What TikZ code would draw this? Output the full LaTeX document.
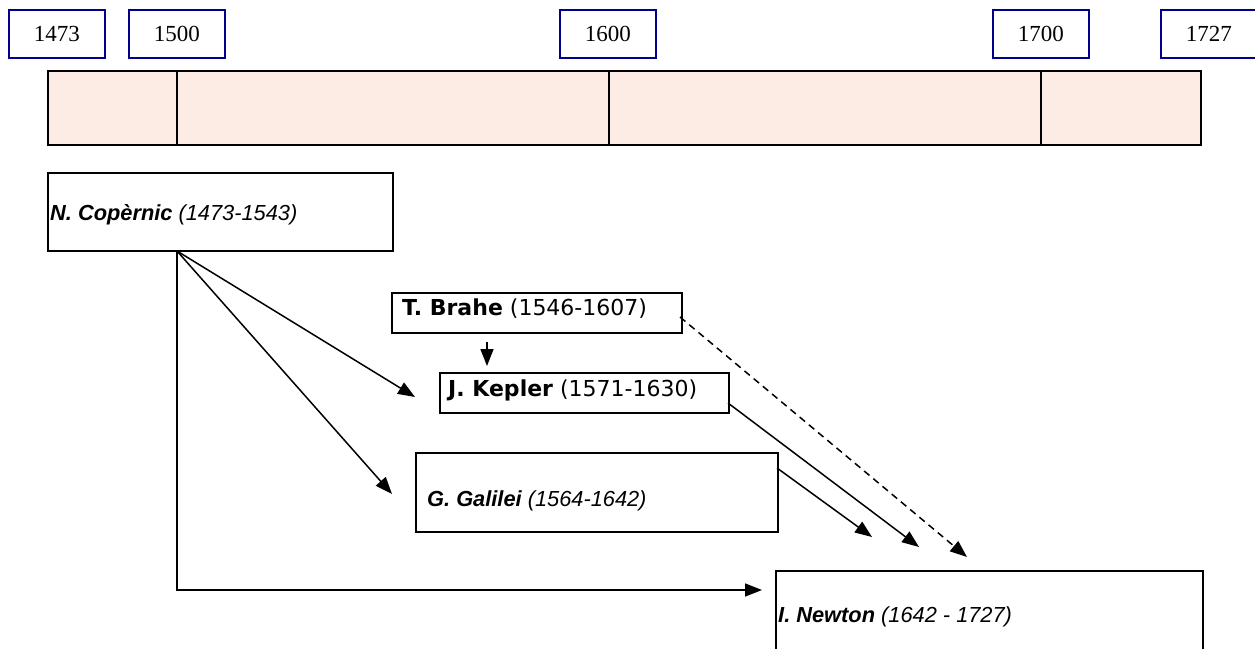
\documentclass[tikz,border=0pt]{standalone}
\usepackage{fontspec}
\setmainfont{Liberation Serif}
\newfontfamily\arialf{Liberation Sans}
\newfontfamily\verdf{DejaVu Sans}
\usetikzlibrary{arrows.meta}
\definecolor{peach}{RGB}{252,236,228}
\definecolor{navyb}{RGB}{0,0,139}
\begin{document}
\begin{tikzpicture}[x=1pt,y=-1pt,
  yearbox/.style={draw=navyb, line width=1.6pt, minimum width=96pt, minimum height=48pt,
    inner sep=0pt, anchor=north west, font=\fontsize{23}{26}\selectfont},
  cell/.style={draw=black, line width=2.2pt, fill=peach, minimum height=74pt,
    inner sep=0pt, anchor=north west},
  pbox/.style={draw=black, line width=2pt, inner sep=0pt, anchor=north west},
  atext/.style={anchor=west, inner sep=0pt, font=\arialf\itshape\fontsize{21.8}{24}\selectfont},
  vtext/.style={anchor=west, inner sep=0pt, font=\verdf\fontsize{22}{26}\selectfont},
  conn/.style={line width=1.5pt, -{Triangle[length=17pt,width=13pt]}},
]
\useasboundingbox (0,0) rectangle (1255,648);
\clip (0,0) rectangle (1255,648);

% year labels
\node[yearbox] (y1473) at (8,9) {1473};
\node[yearbox] (y1500) at (128,9) {1500};
\node[yearbox] (y1600) at (559,9) {1600};
\node[yearbox] (y1700) at (992,9) {1700};
\node[yearbox] (y1727) at (1160,9) {1727};

% timeline bar
\node[cell, minimum width=129pt] (c1) at (47,70) {};
\node[cell, minimum width=432pt] (c2) at (176,70) {};
\node[cell, minimum width=432pt] (c3) at (608,70) {};
\node[cell, minimum width=160pt] (c4) at (1040,70) {};

% person boxes
\node[pbox, minimum width=345pt, minimum height=78pt] (cop) at (47,172) {};
\node[atext] (copt) at (50,215) {\textbf{N. Copèrnic} (1473-1543)};

\node[pbox, minimum width=290pt, minimum height=40pt] (bra) at (391,292) {};
\node[vtext] (brat) at (402,309) {\textbf{T. Brahe} (1546-1607)};

\node[pbox, minimum width=289pt, minimum height=40pt] (kep) at (439,372) {};
\node[vtext] (kept) at (448,390) {\textbf{J. Kepler} (1571-1630)};

\node[pbox, minimum width=362pt, minimum height=79pt] (gal) at (415,452) {};
\node[atext] (galt) at (427,501) {\textbf{G. Galilei} (1564-1642)};

\node[pbox, minimum width=427pt, minimum height=100pt] (new) at (775,570) {};
\node[atext] (newt) at (778,617) {\textbf{I. Newton} (1642 - 1727)};

% connector points
\coordinate (o) at (177,251);
\coordinate (kepin) at (415,397);
\coordinate (galin) at (392,494);
\coordinate (corner) at (177,590);
\coordinate (newin) at (762,590);
\coordinate (braout) at (487,342);
\coordinate (kepup) at (487,366);
\coordinate (galout) at (777,468);
\coordinate (kepout) at (728,403);
\coordinate (braright) at (680,317);
\coordinate (t1) at (872,537);
\coordinate (t2) at (919,547);
\coordinate (t3) at (967,557);

\draw[conn] (o) -- (kepin);
\draw[conn] (o) -- (galin);
\draw[conn] (o) -- (corner) -- (newin);
\draw[conn] (braout) -- (kepup);
\draw[conn] (galout) -- (t1);
\draw[conn] (kepout) -- (t2);
\draw[conn, dash pattern=on 7pt off 5pt] (braright) -- (t3);
\end{tikzpicture}
\end{document}
